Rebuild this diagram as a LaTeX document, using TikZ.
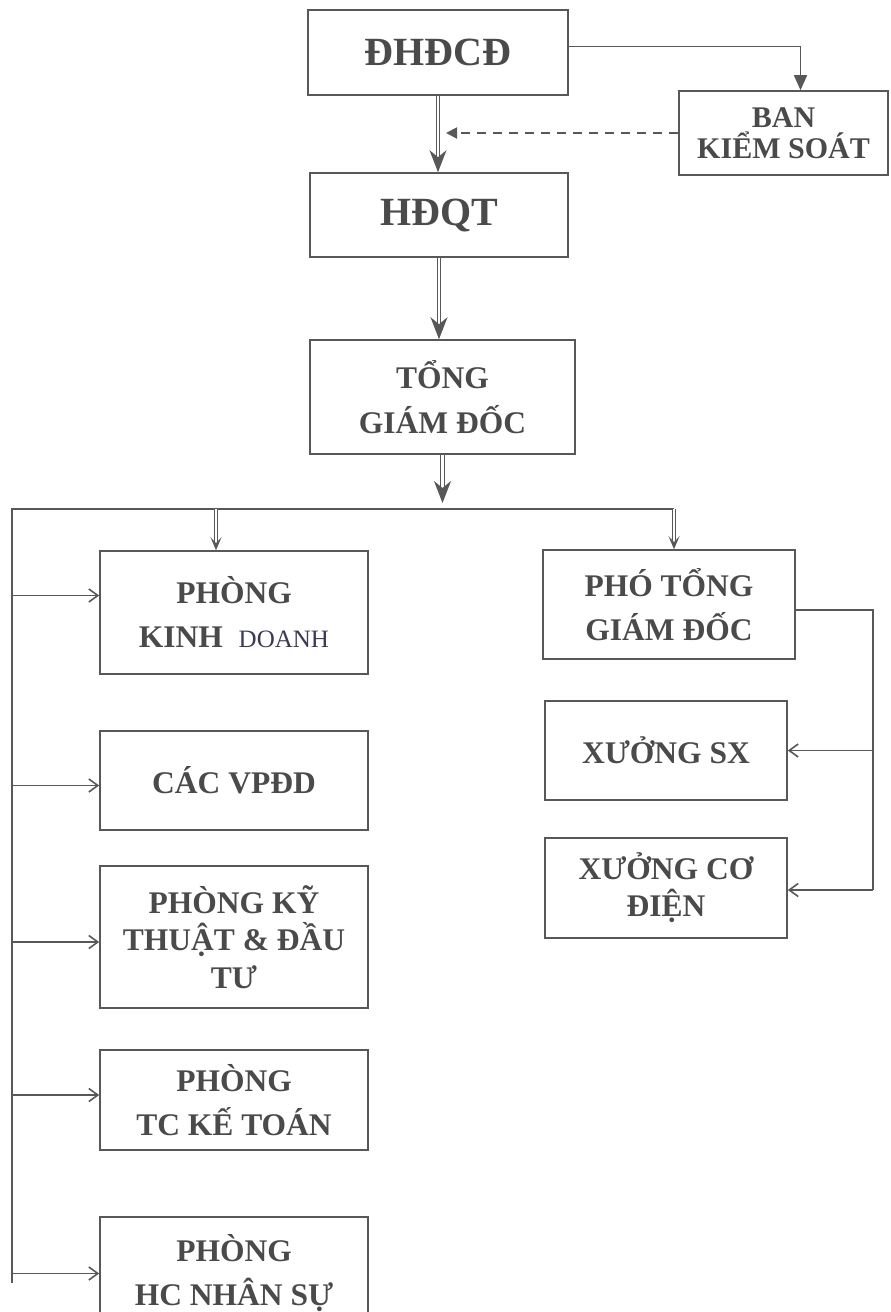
\documentclass[tikz,border=0pt]{standalone}
\usepackage{fontspec}
\setmainfont{Liberation Serif}
\usetikzlibrary{arrows.meta,positioning,calc}
\definecolor{linegray}{HTML}{585858}
\definecolor{txtgray}{HTML}{4A4A4A}

\begin{document}
\begin{tikzpicture}[x=1pt, y=-1pt,
		box/.style={draw=linegray, line width=1.6pt, align=center, text=txtgray, font=\bfseries\fontsize{31.5}{44}\selectfont, inner sep=0pt},
		bigbox/.style={box, font=\bfseries\fontsize{40}{44}\selectfont},
		dbl/.style={draw=linegray, double=white, double distance=2.4pt, line width=1.2pt, -{Stealth[length=22pt, width=17pt, inset=7pt]}},
		dblsmall/.style={draw=linegray, double=white, double distance=2pt, line width=1pt, -{Stealth[length=13pt, width=11pt, inset=6pt]}},
		arr/.style={draw=linegray, line width=1.6pt, -{Straight Barb[length=9pt, width=13pt]}},
		tri/.style={draw=linegray, line width=1.6pt, -{Triangle[length=15pt, width=13pt]}},
		dasharr/.style={draw=linegray, line width=1.9pt, dash pattern=on 9pt off 7pt, -{Triangle[length=11pt, width=11pt]}}
	]
	\clip (0,0) rectangle (891,1312);
	\fill[white] (0,0) rectangle (891,1312);
	
	% top of the chart
	\node[bigbox, minimum width=260pt, minimum height=85pt] (dhdcd) at (438,52.5) {ĐHĐCĐ};
	\node[box, font=\bfseries\fontsize{30}{31}\selectfont, minimum width=209pt, minimum height=84pt] (bks) at (783.5,133) {BAN\\KIỂM SOÁT};
	\node[bigbox, minimum width=258pt, minimum height=84pt] (hdqt) at (439,215) {HĐQT};
	\node[box, font=\bfseries\fontsize{31.5}{45}\selectfont, minimum width=265pt, minimum height=114pt] (tgd) at (442.5,397) {TỔNG\\GIÁM ĐỐC};
	
	% left column
	\node[box, minimum width=268pt, minimum height=123pt] (pkd) at (234,612.5) {PHÒNG\\KINH\ \ {\mdseries\fontsize{25}{25}\selectfont\color[HTML]{3A3A58}DOANH}};
	\node[box, minimum width=268pt, minimum height=99pt] (vpdd) at (234,780.5) {CÁC VPĐD};
	\node[box, font=\bfseries\fontsize{31.5}{37.5}\selectfont, minimum width=268pt, minimum height=142pt] (pkt) at (234,937) {PHÒNG KỸ\\THUẬT \& ĐẦU\\TƯ};
	\node[box, minimum width=268pt, minimum height=100pt] (ptc) at (234,1100) {PHÒNG\\TC KẾ TOÁN};
	\node[box, minimum width=268pt, minimum height=113pt] (phc) at (234,1273.5) {PHÒNG\\HC NHÂN SỰ};
	
	% right column
	\node[box, minimum width=252pt, minimum height=109pt] (ptgd) at (669,604.5) {PHÓ TỔNG\\GIÁM ĐỐC};
	\node[box, minimum width=242pt, minimum height=99pt] (xsx) at (666,750.5) {XƯỞNG SX};
	\node[box, font=\bfseries\fontsize{31.5}{37}\selectfont, minimum width=242pt, minimum height=100pt] (xcd) at (666,888) {XƯỞNG CƠ\\ĐIỆN};
	
	\coordinate (busL) at (12,509);
	\coordinate (busR) at (674,509);
	\coordinate (busEnd) at (12,1283);
	\coordinate (railT) at (873,610);
	\coordinate (railB) at (873,890);
	\coordinate (kdTop) at ([xshift=-18pt]pkd.north);
	\coordinate (kdIn) at ([yshift=17pt]pkd.west);
	\coordinate (vpIn) at ([yshift=-5pt]vpdd.west);
	\coordinate (ktIn) at ([yshift=-5pt]pkt.west);
	\coordinate (tcIn) at ([yshift=5pt]ptc.west);
	
	\draw[tri] ([yshift=6pt]dhdcd.east) -| ([xshift=17pt]bks.north);
	\draw[dbl] (dhdcd.south) -- (dhdcd.south |- hdqt.north);
	\draw[dasharr] (bks.west) -- ([xshift=8pt]dhdcd.south |- bks.west);
	\draw[dbl] (hdqt.south) -- (hdqt.south |- tgd.north);
	\draw[dbl] (tgd.south) -- ([yshift=6pt]tgd.south |- busL);
	
	% the bus under the director
	\draw[draw=linegray, line width=1.6pt] (busEnd) -- (busL) -- (busR);
	\draw[dblsmall] (busL -| kdTop) -- (kdTop);
	\draw[dblsmall] (busR) -- (busR |- ptgd.north);
	\draw[arr] (busL |- kdIn) -- (kdIn);
	\draw[arr] (busL |- vpIn) -- (vpIn);
	\draw[arr] (busL |- ktIn) -- (ktIn);
	\draw[arr] (busL |- tcIn) -- (tcIn);
	\draw[arr] (busL |- phc.west) -- (phc.west);
	
	% deputy director rail
	\draw[draw=linegray, line width=1.6pt] (ptgd.east |- railT) -- (railT) -- (railB);
	\draw[arr] (railT |- xsx.east) -- (xsx.east);
	\draw[arr] (railB) -- (xcd.east |- railB);
\end{tikzpicture}
\end{document}
